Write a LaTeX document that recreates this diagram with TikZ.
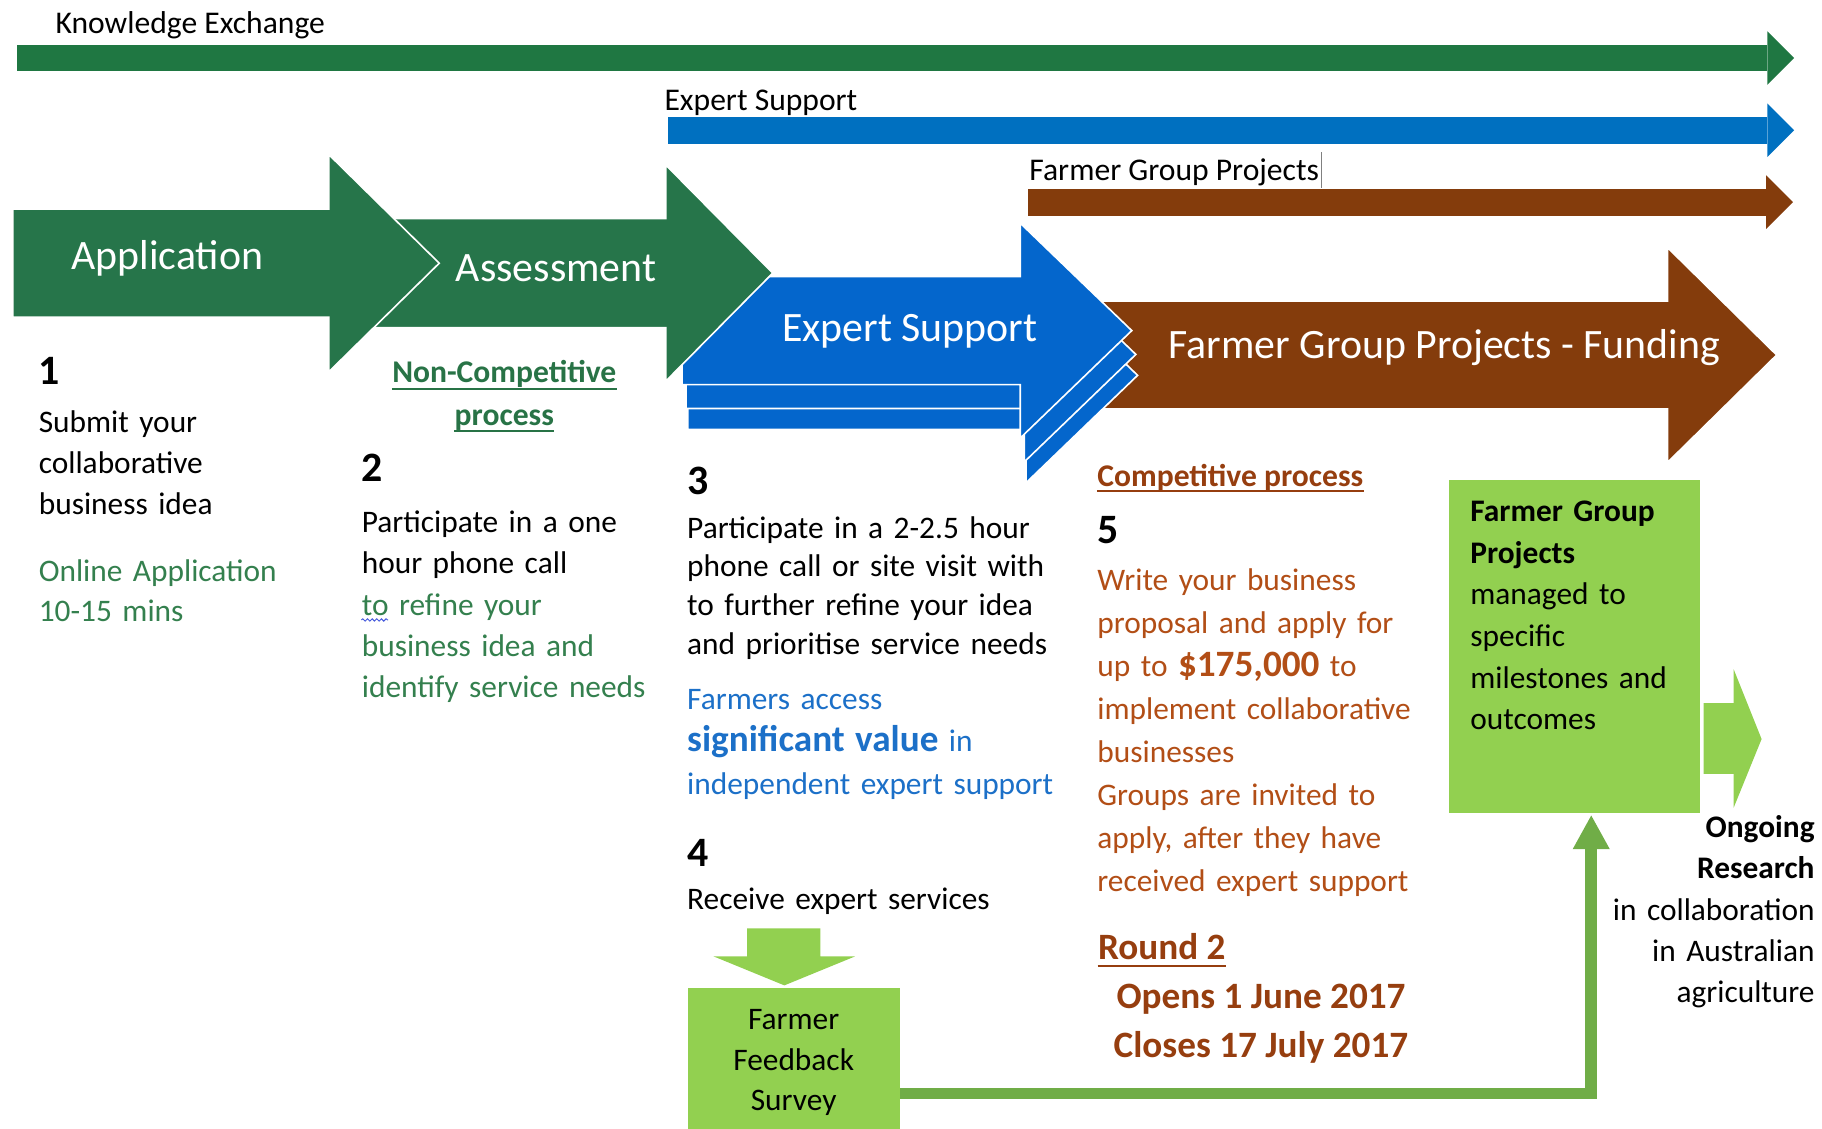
\documentclass[tikz,border=0pt]{standalone}
\usepackage{fontspec}
\setmainfont{Carlito}
\usetikzlibrary{arrows.meta,positioning,decorations.pathmorphing}

\definecolor{kxgreen}{RGB}{31,119,66}
\definecolor{stagegreen}{RGB}{38,117,74}
\definecolor{esblue}{RGB}{0,112,192}
\definecolor{stageblue}{RGB}{4,102,204}
\definecolor{fgpbrown}{RGB}{132,60,12}
\definecolor{lightgreen}{RGB}{146,208,80}
\definecolor{conngreen}{RGB}{112,173,71}
\definecolor{txtgreen}{RGB}{52,128,78}
\definecolor{hdgreen}{RGB}{40,115,70}
\definecolor{txtblue}{RGB}{28,112,200}
\definecolor{txtbrown}{RGB}{178,78,22}
\definecolor{hdbrown}{RGB}{150,62,15}
\definecolor{squiggle}{RGB}{70,90,220}

\tikzset{
  stage/.style={fill=#1, draw=white, line width=0.7pt, line join=miter},
  stagelabel/.style={inner sep=0pt, anchor=base, text=white, font=\fontsize{18}{22}\selectfont},
  bar/.style={draw=#1, line width=11.5pt, -{Triangle[length=11.5pt,width=23pt,line width=0pt]}},
  barlabel/.style={inner sep=0pt, anchor=base west, font=\fontsize{13.6}{16}\selectfont},
  body/.style={inner sep=0pt, anchor=base west, align=left, text width=230pt, font=\fontsize{13.5}{17.7}\selectfont},
  stepnum/.style={inner sep=0pt, anchor=base west, font=\bfseries\fontsize{18}{22}\selectfont},
  heading/.style={inner sep=0pt, font=\bfseries\fontsize{13.6}{17}\selectfont},
  uline/.style={line width=0.8pt},
  greenbox/.style={fill=lightgreen, inner sep=0pt, anchor=north west},
  conn/.style={draw=conngreen, line width=5pt, line join=miter, -{Triangle[length=14.5pt,width=16pt,line width=0pt]}},
}

\begin{document}
\begin{tikzpicture}[x=0.5pt, y=-0.5pt]
  \useasboundingbox (0,0) rectangle (1568,971);

  % --- Timeline bars ---
  \draw[bar=kxgreen] (15,50) -- (1544,50);
  \draw[bar=esblue] (575,112) -- (1544,112);
  \draw[bar=fgpbrown] (885,174) -- (1543,174);
  \node[barlabel] (kxlabel) at (47.5,29) {Knowledge Exchange};
  \node[barlabel] (eslabel) at (571.5,95) {Expert Support};
  \node[barlabel] (fgplabel) at (885.5,155) {Farmer Group Projects};
  \draw[gray, line width=0.4pt] ([xshift=1pt,yshift=12pt]fgplabel.base east) -- ++(0,31);

  % --- Stage arrows (back to front) ---
  \filldraw[stage=fgpbrown] (930,259) -- (1435,259) -- (1435,213) -- (1529,305.5)
    -- (1435,398) -- (1435,352) -- (930,352) -- cycle;
  \foreach \dx/\dy in {5/38.5, 3.5/20.5, 0/0} {
    \filldraw[stage=stageblue, shift={(\dx,\dy)}] (587,238) -- (878,238) -- (878,192)
      -- (974,284.5) -- (878,377) -- (878,331) -- (587,331) -- cycle;
  }
  \filldraw[stage=stagegreen] (300,188) -- (573,188) -- (573,142) -- (665,235)
    -- (573,328) -- (573,282) -- (300,282) -- cycle;
  \filldraw[stage=stagegreen] (11,180) -- (283,180) -- (283,133) -- (378,226.5)
    -- (283,320) -- (283,273) -- (11,273) -- cycle;

  \node[stagelabel] (app) at (144,232) {Application};
  \node[stagelabel] (asm) at (478.6,242.5) {Assessment};
  \node[stagelabel] (esp) at (783,294) {Expert Support};
  \node[stagelabel] (fgpf) at (1243,308.5) {Farmer Group Projects - Funding};

  % Step 1
  \node[stepnum] (n1) at (33,331) {1};
  \node[body, font=\fontsize{13.5}{17.5}\selectfont] (t1) at (33,372.5) {Submit your\\collaborative\\business idea};
  \node[body, text=txtgreen, font=\fontsize{13.5}{17}\selectfont] (t1b) at (33,500.5) {Online Application\\10-15 mins};

  % Step 2
  \node[heading, text=hdgreen, anchor=base] (nc1) at (434,329.5) {Non-Competitive};
  \node[heading, text=hdgreen, anchor=base] (nc2) at (434,366) {process};
  \draw[uline, hdgreen] ([yshift=-2.5pt]nc1.base west) -- ([yshift=-2.5pt]nc1.base east);
  \draw[uline, hdgreen] ([yshift=-2.5pt]nc2.base west) -- ([yshift=-2.5pt]nc2.base east);
  \node[stepnum] (n2) at (311,414.5) {2};
  \node[body] (t2) at (311,458) {Participate in a one\\hour phone call};
  \node[body, text=txtgreen] (t2b) at (311,529.5) {to refine your\\business idea and\\identify service needs};
  \draw[squiggle, line width=0.4pt, decorate,
    decoration={snake, amplitude=0.5pt, segment length=2pt}]
    ([yshift=-2pt]t2b.base west) -- ++(23,0);

  % Step 3
  \node[stepnum] (n3) at (591,425.5) {3};
  \node[body, font=\fontsize{13.5}{16.75}\selectfont] (t3) at (591,463) {Participate in a 2-2.5 hour\\phone call or site visit with\\to further refine your idea\\and prioritise service needs};
  \node[body, text=txtblue, font=\fontsize{13.5}{18.25}\selectfont] (t3b) at (591,610.5) {Farmers access\\{\bfseries\fontsize{16}{18}\selectfont significant value} in\\independent expert support};

  % Step 4
  \node[stepnum] (n4) at (591,745.5) {4};
  \node[body] (t4) at (591,783) {Receive expert services};
  \fill[lightgreen] (643,799) -- (706,799) -- (706,823) -- (736,823) -- (675,848)
    -- (614,823) -- (643,823) -- cycle;
  \node[greenbox, minimum width=91pt, minimum height=61pt] (fb) at (592,850) {};
  \node[body, align=center, anchor=base, text width=90pt, font=\fontsize{13.5}{17.5}\selectfont] (fbtext) at (683,886) {Farmer\\Feedback\\Survey};

  % Step 5
  \node[heading, text=hdbrown, anchor=base west] (cp) at (944,418.5) {Competitive process};
  \draw[uline, hdbrown] ([yshift=-2.2pt]cp.base west) -- ([yshift=-2.2pt]cp.base east);
  \node[stepnum] (n5) at (944,467.5) {5};
  \node[body, text=txtbrown, font=\fontsize{13.5}{18.5}\selectfont] (t5) at (944,508.5) {Write your business\\proposal and apply for\\up to {\bfseries\fontsize{16}{18}\selectfont \$175,000} to\\implement collaborative\\businesses\\Groups are invited to\\apply, after they have\\received expert support};
  \node[heading, text=hdbrown, anchor=base west, font=\bfseries\fontsize{16}{19}\selectfont] (r2) at (944.6,825.5) {Round 2};
  \draw[uline, hdbrown, line width=1pt] ([yshift=-2.8pt]r2.base west) -- ([yshift=-2.8pt]r2.base east);
  \node[heading, text=hdbrown, anchor=base west, font=\bfseries\fontsize{16}{19}\selectfont] (opens) at (960.5,868) {Opens 1 June 2017};
  \node[heading, text=hdbrown, anchor=base west, font=\bfseries\fontsize{16}{19}\selectfont] (closes) at (958,910) {Closes 17 July 2017};

  % Farmer Group Projects box
  \node[greenbox, minimum width=108pt, minimum height=143pt] (fgp) at (1247,413) {};
  \node[body, font=\fontsize{13.5}{17.9}\selectfont] (fgptext) at (1265,449) {\textbf{Farmer Group}\\\textbf{Projects}\\managed to\\specific\\milestones and\\outcomes};
  \fill[lightgreen] (1466,605) -- (1492,605) -- (1492,576) -- (1516,636) -- (1492,695)
    -- (1492,666) -- (1466,666) -- cycle;
  \node[body, align=right, anchor=base east, text width=110pt] (ongo) at (1562,721) {\textbf{Ongoing}\\\textbf{Research}\\in collaboration\\in Australian\\agriculture};

  % Feedback loop
  \draw[conn, shorten >=1pt] ([yshift=-14.75pt]fb.east) -| ([xshift=7pt]fgp.south);
\end{tikzpicture}
\end{document}
